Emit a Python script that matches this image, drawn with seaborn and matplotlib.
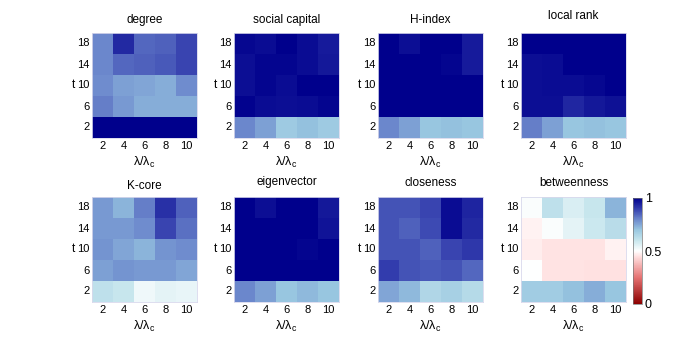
import numpy as np
import pandas as pd
import matplotlib
matplotlib.use('Agg')
import matplotlib.pyplot as plt
import seaborn as sns
from matplotlib.colors import LinearSegmentedColormap

# axis categories
lam_ratio = [2, 4, 6, 8, 10]          # lambda / lambda_c (columns)
t_values = [18, 14, 10, 6, 2]         # t (rows, top to bottom)

# normalised scores (rows follow t_values)
degree = [[0.80, 0.93, 0.84, 0.85, 0.89],
          [0.80, 0.84, 0.85, 0.86, 0.89],
          [0.79, 0.76, 0.75, 0.74, 0.79],
          [0.81, 0.77, 0.74, 0.74, 0.74],
          [1.00, 1.00, 1.00, 1.00, 1.00]]
social_capital = [[0.985, 0.98, 1.00, 0.98, 0.955],
                  [0.975, 0.99, 0.99, 0.98, 0.96],
                  [0.975, 0.99, 0.98, 1.00, 1.00],
                  [0.995, 0.98, 0.975, 0.98, 0.99],
                  [0.80, 0.76, 0.69, 0.71, 0.69]]
h_index = [[1.00, 0.975, 1.00, 1.00, 0.955],
           [1.00, 1.00, 1.00, 0.99, 0.955],
           [1.00, 1.00, 1.00, 1.00, 1.00],
           [1.00, 1.00, 1.00, 1.00, 1.00],
           [0.80, 0.76, 0.70, 0.71, 0.70]]
local_rank = [[1.00, 1.00, 1.00, 1.00, 1.00],
              [0.975, 0.98, 1.00, 1.00, 1.00],
              [0.975, 0.98, 0.98, 0.985, 1.00],
              [0.975, 0.975, 0.935, 0.96, 0.97],
              [0.81, 0.76, 0.70, 0.71, 0.70]]
k_core = [[0.77, 0.73, 0.81, 0.92, 0.85],
          [0.77, 0.77, 0.79, 0.89, 0.83],
          [0.78, 0.75, 0.73, 0.78, 0.79],
          [0.76, 0.78, 0.77, 0.77, 0.75],
          [0.62, 0.60, 0.53, 0.55, 0.54]]
eigenvector = [[1.00, 0.975, 1.00, 1.00, 0.96],
               [1.00, 1.00, 1.00, 1.00, 0.965],
               [1.00, 1.00, 1.00, 0.99, 1.00],
               [1.00, 1.00, 1.00, 1.00, 1.00],
               [0.80, 0.76, 0.70, 0.72, 0.70]]
closeness = [[0.87, 0.87, 0.89, 0.98, 0.94],
             [0.87, 0.85, 0.88, 0.98, 0.93],
             [0.87, 0.87, 0.85, 0.89, 0.91],
             [0.90, 0.87, 0.86, 0.87, 0.84],
             [0.75, 0.72, 0.65, 0.67, 0.64]]
betweenness = [[0.51, 0.62, 0.57, 0.60, 0.73],
               [0.48, 0.51, 0.55, 0.59, 0.63],
               [0.47, 0.455, 0.455, 0.455, 0.48],
               [0.50, 0.455, 0.455, 0.45, 0.45],
               [0.68, 0.68, 0.71, 0.74, 0.70]]

titles = ['degree', 'social capital', 'H-index', 'local rank',
          'K-core', 'eigenvector', 'closeness', 'betweenness']
panels = [degree, social_capital, h_index, local_rank,
          k_core, eigenvector, closeness, betweenness]

plt.rcParams['font.family'] = ['Liberation Sans', 'DejaVu Sans']
plt.rcParams['mathtext.fontset'] = 'custom'
plt.rcParams['mathtext.rm'] = 'Liberation Sans'
plt.rcParams['mathtext.it'] = 'Liberation Sans'

# red - white - blue map
cmap = LinearSegmentedColormap.from_list('rwb', [
    (0.00, (0.55, 0.00, 0.00)),
    (0.25, (0.90, 0.45, 0.45)),
    (0.45, (1.00, 0.88, 0.88)),
    (0.50, (1.00, 1.00, 1.00)),
    (0.60, (0.78, 0.90, 0.93)),
    (0.70, (0.60, 0.78, 0.88)),
    (0.80, (0.42, 0.53, 0.80)),
    (0.90, (0.20, 0.24, 0.68)),
    (1.00, (0.00, 0.00, 0.55)),
])

W, H = 694, 348
fig = plt.figure(figsize=(W / 100, H / 100), dpi=100)

col_left = [92, 234, 378, 521]
row_top = [33, 197]
size = 105
title_pad = [7, 7, 7, 10, 6, 9, 8, 8]

cax = fig.add_axes([633 / W, 1 - 304 / H, 9 / W, 106 / H])

for i, (name, vals) in enumerate(zip(titles, panels)):
    r, c = divmod(i, 4)
    ax = fig.add_axes([col_left[c] / W, 1 - (row_top[r] + size) / H, size / W, size / H])
    df = pd.DataFrame(vals, index=t_values, columns=lam_ratio)
    last = i == len(panels) - 1
    sns.heatmap(df, ax=ax, cmap=cmap, vmin=0, vmax=1, square=False,
                cbar=last, cbar_ax=cax if last else None)
    ax.set_title(name, fontsize=8.5, pad=title_pad[i])
    ax.set_xlabel(r'$\mathregular{\lambda/\lambda_c}$', fontsize=9, labelpad=3)
    ax.set_ylabel('t', fontsize=8.5, rotation=0, va='center', ha='right', labelpad=1)
    ax.tick_params(length=0, labelsize=8, pad=2)
    ax.tick_params(axis='y', rotation=0)
    ax.tick_params(axis='x', rotation=0)
    for s in ax.spines.values():
        s.set_visible(True)
        s.set_color('#d8d8ec')
        s.set_linewidth(0.6)
    if last:
        cbar = ax.collections[0].colorbar

cbar.set_ticks([0, 0.5, 1])
cbar.set_ticklabels(['0', '0.5', '1'])
cax.tick_params(length=0, labelsize=9, pad=2)
cbar.outline.set_edgecolor('#777777')
cbar.outline.set_linewidth(0.5)

fig.savefig('out.png', dpi=100)
